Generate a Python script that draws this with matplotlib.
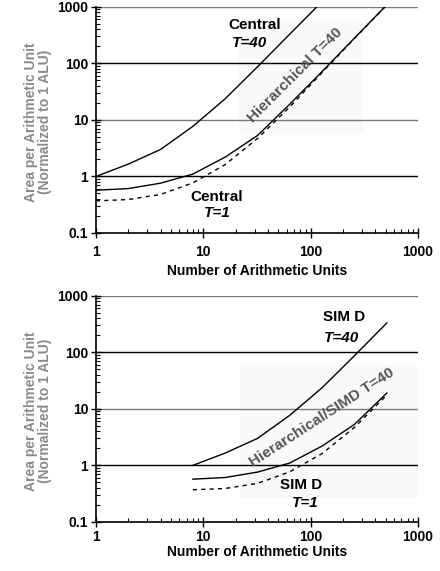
import matplotlib
matplotlib.use("Agg")
import matplotlib.pyplot as plt
from matplotlib.ticker import LogLocator, NullFormatter, FixedLocator

plt.rcParams['font.family'] = ['Liberation Sans', 'DejaVu Sans']

# top panel: central register file
units_top = [1, 2, 4, 8, 16, 32, 64, 128, 256, 512]
central_t40 = [1.0, 1.65, 3.0, 7.7, 23.7, 87, 330, 1240, None, None]
hier_t40 = [0.57, 0.61, 0.76, 1.1, 2.2, 5.3, 19, 72, 280, 1085]
central_t1 = [0.37, 0.39, 0.48, 0.77, 1.62, 4.7, 17, 69, 276, 1075]

# bottom panel: SIMD
units_bot = [8, 16, 32, 64, 128, 256, 512]
simd_t40 = [1.0, 1.65, 3.0, 7.7, 23.7, 87, 330]
hsimd_t40 = [0.57, 0.61, 0.76, 1.1, 2.2, 5.3, 19]
simd_t1 = [0.37, 0.39, 0.48, 0.77, 1.62, 4.7, 17.5]

ylabel = "Area per Arithmetic Unit\n(Normalized to 1 ALU)"
xlabel = "Number of Arithmetic Units"
grid_vals = [1, 10, 100, 1000]
grid_cols = ['black', '#7a7a7a', 'black', '#7a7a7a']


def clean(xs, ys):
    pts = [(x, y) for x, y in zip(xs, ys) if y is not None]
    return [p[0] for p in pts], [p[1] for p in pts]


def setup(ax, xpad, lpad):
    ax.set_xscale('log')
    ax.set_yscale('log')
    ax.set_xlim(1, 1000)
    ax.set_ylim(0.1, 1000)
    for v, c in zip(grid_vals, grid_cols):
        ax.axhline(v, color=c, lw=1.0, zorder=1)
    for s in ['top', 'right']:
        ax.spines[s].set_visible(False)
    ax.spines['left'].set_linewidth(1.2)
    ax.spines['bottom'].set_linewidth(1.2)
    ax.xaxis.set_major_locator(FixedLocator([1, 10, 100, 1000]))
    ax.yaxis.set_major_locator(FixedLocator([0.1, 1, 10, 100, 1000]))
    ax.xaxis.set_minor_locator(LogLocator(base=10, subs=range(2, 10)))
    ax.yaxis.set_minor_locator(LogLocator(base=10, subs=range(2, 10)))
    ax.xaxis.set_minor_formatter(NullFormatter())
    ax.yaxis.set_minor_formatter(NullFormatter())
    ax.set_xticklabels(['1', '10', '100', '1000'])
    ax.set_yticklabels(['0.1', '1', '10', '100', '1000'])
    ax.tick_params(which='major', direction='inout', length=7, width=1, labelsize=10, pad=2)
    ax.tick_params(axis='x', which='major', pad=xpad)
    ax.tick_params(which='minor', direction='in', length=3, width=0.8)
    for lab in ax.get_xticklabels() + ax.get_yticklabels():
        lab.set_fontweight('bold')
    ax.set_xlabel(xlabel, fontsize=10, fontweight='bold', labelpad=lpad)
    ax.set_ylabel(ylabel, fontsize=10, fontweight='bold', color='#8a8a8a', linespacing=1.0)
    ax.yaxis.set_label_coords(-0.135, 0.49)


fig = plt.figure(figsize=(4.4, 5.71), dpi=100)
ax1 = fig.add_axes([0.218, 0.592, 0.732, 0.396])
ax2 = fig.add_axes([0.218, 0.086, 0.732, 0.396])

setup(ax1, 5, 4)
setup(ax2, 2, 1)

x, y = clean(units_top, central_t40)
ax1.plot(x, y, color='black', lw=1.0, zorder=3)
ax1.plot(units_top, hier_t40, color='black', lw=1.0, zorder=3)
ax1.plot(units_top, central_t1, color='black', lw=1.0, ls=(0, (3, 3)), zorder=3)

ax1.add_patch(plt.Rectangle((0.445, 0.44), 0.385, 0.5, transform=ax1.transAxes,
                            color='#f9f9f9', zorder=0.5, lw=0))
ax1.text(29.8, 486, "Central", ha='center', va='center', fontsize=11, fontweight='bold')
ax1.text(26.8, 233, "T=40", ha='center', va='center', fontsize=11, fontweight='bold', style='italic')
ax1.text(13.2, 0.44, "Central", ha='center', va='center', fontsize=11, fontweight='bold')
ax1.text(13.5, 0.23, "T=1", ha='center', va='center', fontsize=11, fontweight='bold', style='italic')
ax1.text(72, 63, "Hierarchical T=40", ha='center', va='center', fontsize=11, fontweight='bold',
         color='#555555', rotation=45, zorder=2)

ax2.plot(units_bot, simd_t40, color='black', lw=1.0, zorder=3)
ax2.plot(units_bot, hsimd_t40, color='black', lw=1.0, zorder=3)
ax2.plot(units_bot, simd_t1, color='black', lw=1.0, ls=(0, (3, 3)), zorder=3)

ax2.add_patch(plt.Rectangle((0.447, 0.106), 0.553, 0.59, transform=ax2.transAxes,
                            color='#f9f9f9', zorder=0.5, lw=0))
ax2.text(205, 425, "SIM D", ha='center', va='center', fontsize=11, fontweight='bold')
ax2.text(196, 180, "T=40", ha='center', va='center', fontsize=11, fontweight='bold', style='italic')
ax2.text(81.5, 0.446, "SIM D", ha='center', va='center', fontsize=11, fontweight='bold')
ax2.text(90, 0.214, "T=1", ha='center', va='center', fontsize=11, fontweight='bold', style='italic')
ax2.text(128, 6.9, "Hierarchical/SIMD T=40", ha='center', va='center', fontsize=11, fontweight='bold',
         color='#555555', rotation=33, zorder=2)

fig.savefig("out.png", dpi=100)
